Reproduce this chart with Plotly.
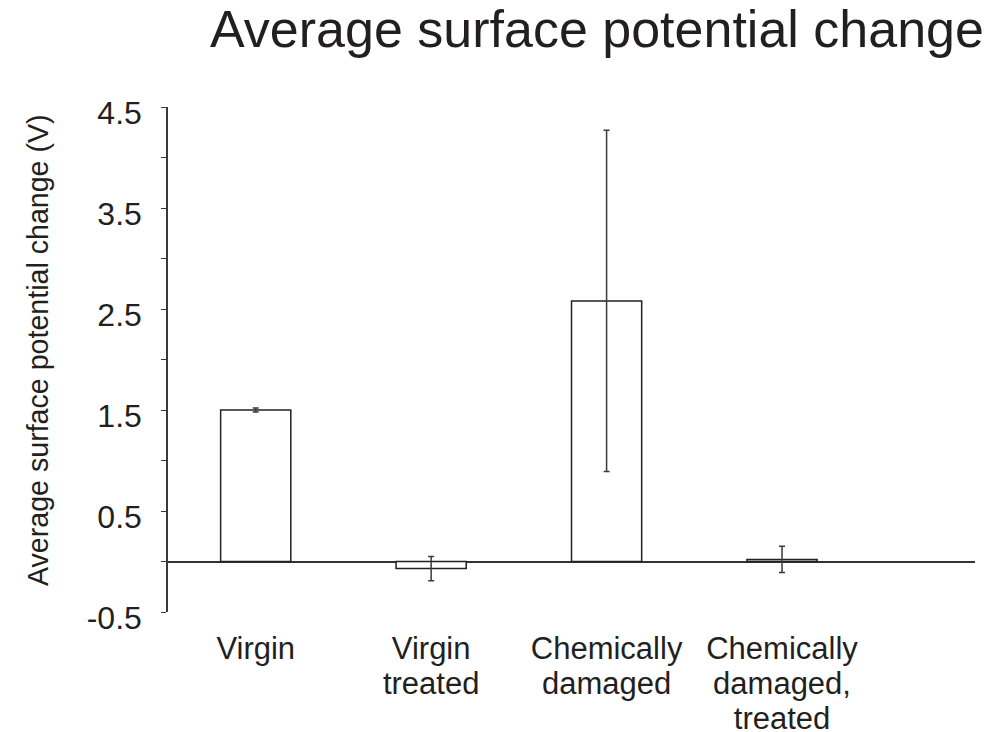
import plotly.graph_objects as go

categories = ["Virgin", "Virgin<br>treated", "Chemically<br>damaged", "Chemically<br>damaged,<br>treated"]
positions = [0, 1, 2, 3]
values = [1.50, -0.07, 2.58, 0.02]
errors = [0.02, 0.12, 1.69, 0.13]
y_ticks = [-0.5, 0.5, 1.5, 2.5, 3.5, 4.5]
y_tick_text = ["-0.5", "0.5", "1.5", "2.5", "3.5", "4.5"]
y_minor = [0, 1, 2, 3, 4]
x_bounds = [0.5, 1.5, 2.5, 3.5]
y_title = "Average surface potential change (V)"

FONT = "Liberation Sans, Arial, sans-serif"
INK = "#231f20"
LINE = "#3a3a3a"


def big(label):
    return "<br>".join('<span style="font-size:31px">%s</span>' % part for part in label.split("<br>"))


fig = go.Figure()
fig.add_trace(go.Bar(
    x=positions, y=values, width=0.4,
    marker=dict(color="white", line=dict(color="#222222", width=1.5)),
    error_y=dict(type="data", array=errors, color=LINE, thickness=1.5, width=3),
    showlegend=False,
))

fig.update_layout(
    width=1000, height=732,
    paper_bgcolor="white", plot_bgcolor="white",
    margin=dict(l=168, r=25, t=107, b=120),
    font=dict(family=FONT, color=INK),
    title=dict(text="Average surface potential change", font=dict(size=52, color=INK, family=FONT),
               x=0.597, xref="container", xanchor="center", y=0.961, yref="container", yanchor="middle"),
    xaxis=dict(range=[-0.5, 4.1], tickvals=positions, ticktext=[big(c) for c in categories], ticks="",
               showline=False, showgrid=False, zeroline=False, automargin=False,
               tickfont=dict(size=27, color=INK), ticklabelstandoff=19),
    xaxis2=dict(range=[-0.5, 4.1], overlaying="x", anchor="free", position=0.1, side="bottom",
                tickvals=x_bounds, ticks="outside", ticklen=6, tickwidth=1.2, tickcolor=LINE,
                showticklabels=False, showline=False, showgrid=False, zeroline=False, automargin=False),
    yaxis=dict(range=[-0.5, 4.5], tickvals=y_ticks, ticktext=y_tick_text, ticks="outside", ticklen=5,
               tickwidth=1.2, tickcolor=LINE, showline=True, linecolor=LINE, linewidth=1.5,
               showgrid=False, zeroline=True, zerolinecolor="#333333", zerolinewidth=1.5,
               automargin=False,
               tickfont=dict(size=32, color=INK), ticklabelstandoff=13, ticklabelshift=6,
               minor=dict(tickvals=y_minor, ticks="outside", ticklen=5, tickwidth=1.2, tickcolor=LINE,
                          showgrid=False)),
    annotations=[dict(text=y_title, textangle=-90, xref="paper", yref="paper",
                      x=-0.1611, y=0.5188, xanchor="center", yanchor="middle", showarrow=False,
                      font=dict(size=28.6, color=INK, family=FONT))],
)

fig.write_html("out.html", config={"displayModeBar": False},
               post_script="document.body.style.margin='0px';")
